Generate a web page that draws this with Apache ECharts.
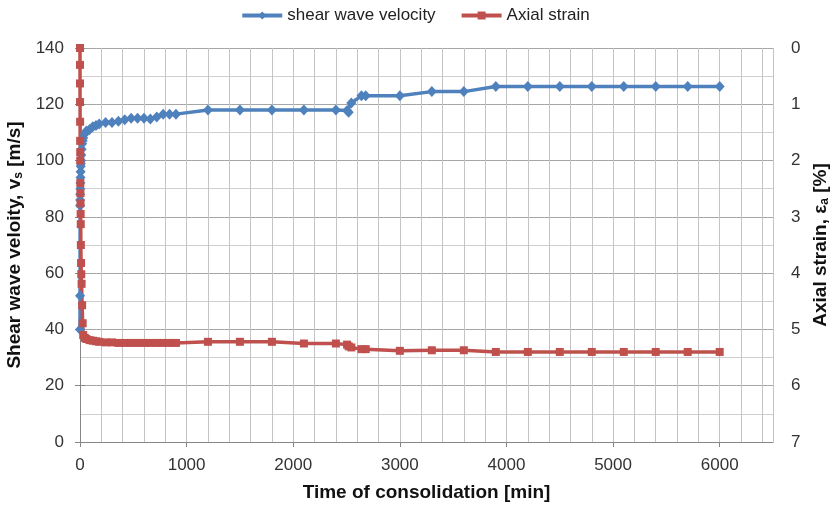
<!DOCTYPE html>
<html>
<head>
<meta charset="utf-8">
<script src="https://cdn.jsdelivr.net/npm/echarts@6/dist/echarts.min.js"></script>
<style>
  html, body { margin: 0; padding: 0; background: #fff; }
  #chart { width: 830px; height: 510px; }
</style>
</head>
<body>
<div id="chart"></div>
<script>
// Shear wave velocity during consolidation [m/s]
const timesV = [0, 0.5, 1, 1.5, 2, 3, 4, 5, 6, 7, 8, 10, 12, 15, 20, 25, 30, 45, 60, 90,
  120, 150, 180, 240, 300, 360, 420, 480, 540, 600, 660, 720, 780, 840, 900,
  1200, 1500, 1800, 2100, 2400, 2505, 2520, 2545, 2640, 2680,
  3000, 3300, 3600, 3900, 4200, 4500, 4800, 5100, 5400, 5700, 6000];
const velocity = [40, 52, 84, 86, 88, 90, 92, 94, 96, 98, 99, 100, 102, 104, 106, 107, 108, 109.5, 110.5, 111,
  112, 112.5, 113, 113.5, 113.5, 114, 114.5, 115, 115, 115, 114.8, 115.5, 116.5, 116.5, 116.5,
  118, 118, 118, 118, 118, 117.8, 117.2, 120.5, 123, 123,
  123, 124.5, 124.5, 126.3, 126.3, 126.3, 126.3, 126.3, 126.3, 126.3, 126.3];

// Axial strain during consolidation [%]
const timesS = [0, 0.1, 0.25, 0.5, 1, 1.5, 2, 2.5, 3, 4, 5, 6, 7, 8, 10, 12, 15, 20, 25, 30,
  45, 60, 90, 120, 150, 180, 240,
  300, 360, 420, 480, 540, 600, 660, 720, 780, 840, 900,
  1200, 1500, 1800, 2100, 2400, 2505, 2520, 2545, 2640, 2680,
  3000, 3300, 3600, 3900, 4200, 4500, 4800, 5100, 5400, 5700, 6000];
const strain = [0, 0.3, 0.63, 0.96, 1.31, 1.65, 1.85, 2.0, 2.4, 2.58, 2.76, 2.95, 3.13, 3.5, 3.82, 4.02, 4.19, 4.57, 4.89, 5.1,
  5.15, 5.17, 5.19, 5.2, 5.21, 5.22, 5.23,
  5.23, 5.24, 5.24, 5.24, 5.24, 5.24, 5.24, 5.24, 5.24, 5.24, 5.24,
  5.22, 5.22, 5.22, 5.25, 5.25, 5.27, 5.3, 5.32, 5.35, 5.35,
  5.38, 5.37, 5.37, 5.4, 5.4, 5.4, 5.4, 5.4, 5.4, 5.4, 5.4];

const seriesNames = ['shear wave velocity', 'Axial strain'];

const FONT = '"Liberation Sans", Arial, sans-serif';
const BLUE = '#4F81BD';
const RED = '#C0504D';
const AXIS = '#868686';

const pairs = (xs, ys) => xs.map((x, i) => [x, ys[i]]);

const chart = echarts.init(document.getElementById('chart'), null, { renderer: 'canvas' });

chart.setOption({
  animation: false,
  backgroundColor: '#fff',
  textStyle: { fontFamily: FONT },
  legend: {
    top: 2,
    left: 'center',
    itemWidth: 40,
    itemHeight: 10,
    itemGap: 24,
    lineStyle: { width: 4 },
    textStyle: { fontFamily: FONT, fontSize: 17, color: '#222' },
    data: seriesNames
  },
  grid: { left: 80, right: 57, top: 48, bottom: 68, containLabel: false, outerBoundsMode: 'none' },
  xAxis: [
    {
      type: 'value',
      min: 0, max: 6500, interval: 1000,
      name: 'Time of consolidation [min]',
      nameLocation: 'middle',
      nameGap: 41,
      nameTextStyle: { fontFamily: FONT, fontSize: 19, fontWeight: 'bold', color: '#111' },
      axisLine: { onZero: false, lineStyle: { color: AXIS, width: 1 } },
      axisTick: { show: true, length: 5, lineStyle: { color: AXIS } },
      axisLabel: { margin: 15, fontSize: 17, color: '#333', showMaxLabel: false,
        formatter: v => (v % 1000 === 0 ? String(v) : '') },
      splitLine: { show: false }
    },
    {
      // fine vertical grid every 200 min
      type: 'value',
      min: 0, max: 6500, interval: 200,
      position: 'bottom',
      axisLine: { show: false },
      axisTick: { show: false },
      axisLabel: { show: false },
      splitLine: { show: true, lineStyle: { color: '#C4C4C4', width: 1 } }
    }
  ],
  yAxis: [
    {
      type: 'value',
      min: 0, max: 140, interval: 20,
      name: '{t|Shear wave veloity, v}{sub|s}{t| [m/s]}',
      nameLocation: 'middle',
      nameRotate: 90,
      nameGap: 52,
      nameTextStyle: {
        rich: {
          t: { fontFamily: FONT, fontSize: 19, fontWeight: 'bold', color: '#111' },
          sub: { fontFamily: FONT, fontSize: 12, fontWeight: 'bold', color: '#111', padding: [8, 0, 0, 0] }
        }
      },
      axisLine: { show: true, lineStyle: { color: AXIS } },
      axisTick: { show: true, length: 5, lineStyle: { color: AXIS } },
      axisLabel: { margin: 16, fontSize: 17, color: '#333' },
      splitLine: { show: true, lineStyle: { color: '#A6A6A6', width: 1 } },
      minorTick: { show: false, splitNumber: 2 },
      minorSplitLine: { show: true, lineStyle: { color: '#CFCFCF', width: 1 } }
    },
    {
      type: 'value',
      min: 0, max: 7, interval: 1,
      inverse: true,
      position: 'right',
      name: '{t|Axial strain, ε}{sub|a}{t| [%]}',
      nameLocation: 'middle',
      nameRotate: 90,
      nameGap: 38,
      nameTextStyle: {
        rich: {
          t: { fontFamily: FONT, fontSize: 19, fontWeight: 'bold', color: '#111' },
          sub: { fontFamily: FONT, fontSize: 12, fontWeight: 'bold', color: '#111', padding: [8, 0, 0, 0] }
        }
      },
      axisLine: { show: true, lineStyle: { color: AXIS } },
      axisTick: { show: true, length: 5, lineStyle: { color: AXIS } },
      axisLabel: { margin: 18, fontSize: 17, color: '#333' },
      splitLine: { show: false }
    }
  ],
  series: [
    {
      name: seriesNames[0],
      type: 'line',
      xAxisIndex: 0,
      yAxisIndex: 0,
      data: pairs(timesV, velocity),
      symbol: 'diamond',
      symbolSize: [10, 11],
      showAllSymbol: true,
      itemStyle: { color: BLUE },
      lineStyle: { color: BLUE, width: 3.5 }
    },
    {
      name: seriesNames[1],
      type: 'line',
      xAxisIndex: 0,
      yAxisIndex: 1,
      data: pairs(timesS, strain),
      symbol: 'rect',
      symbolSize: 8,
      showAllSymbol: true,
      itemStyle: { color: RED },
      lineStyle: { color: RED, width: 3.5 }
    }
  ]
});
</script>
</body>
</html>
